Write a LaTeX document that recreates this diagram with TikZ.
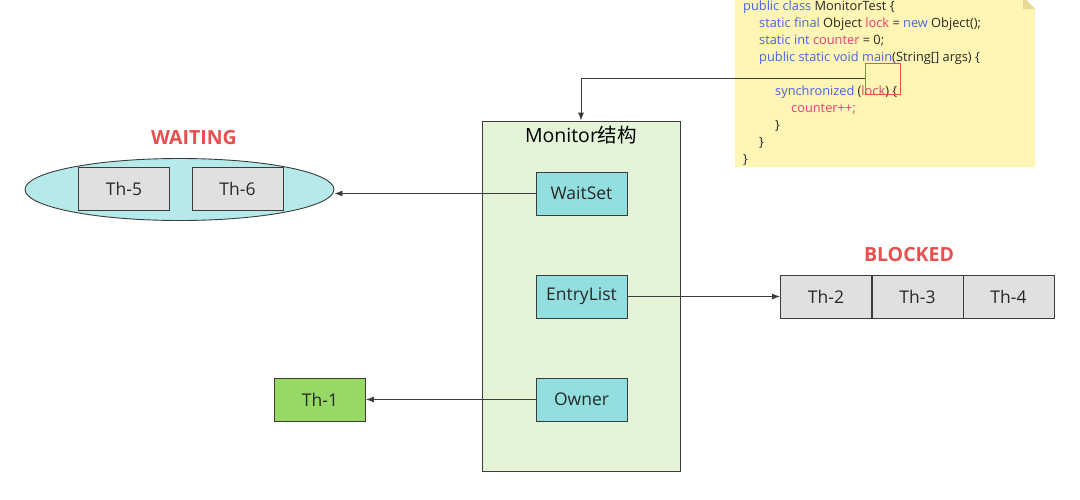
\documentclass[tikz,border=0pt]{standalone}
\usepackage{fontspec}
\setmainfont{Open Sans}
\newfontfamily\cjkfont{Noto Sans CJK SC}
\usetikzlibrary{arrows.meta,shapes.geometric}
\definecolor{linec}{RGB}{60,60,60}
\definecolor{monfill}{RGB}{227,244,217}
\definecolor{cyanfill}{RGB}{147,223,224}
\definecolor{ellfill}{RGB}{182,233,234}
\definecolor{grayfill}{RGB}{224,224,224}
\definecolor{greenfill}{RGB}{150,217,102}
\definecolor{statered}{RGB}{232,80,80}
\definecolor{notefill}{RGB}{255,245,180}
\definecolor{foldfill}{RGB}{232,216,150}
\definecolor{kw}{RGB}{70,100,225}
\definecolor{idc}{RGB}{228,60,120}
\definecolor{txt}{RGB}{40,40,40}
\tikzset{
  box/.style={draw=linec, line width=0.9pt, inner sep=0pt, minimum width=91pt, minimum height=43pt, text=txt, font=\fontsize{17.5}{19}\selectfont},
  field/.style={box, fill=cyanfill},
  thread/.style={box, fill=grayfill},
  state/.style={text=statered, font=\fontsize{19.5}{21}\selectfont\bfseries, inner sep=0pt},
  code/.style={anchor=base west, inner sep=0pt, text=txt, font=\fontsize{12.8}{15}\selectfont},
  conn/.style={draw=linec, line width=0.9pt, -{Latex[length=8pt,width=6pt]}}
}
\begin{document}
\begin{tikzpicture}[x=1pt,y=-1pt]
\useasboundingbox[fill=white] (0,0) rectangle (1080,499);
% note
\fill[notefill] (735,-3) -- (1023,-3) -- (1035,9) -- (1035,167) -- (735,167) -- cycle;
\fill[foldfill] (1023,-3) -- (1023,9) -- (1035,9) -- cycle;
\node[code] (c1) at (743,10) {\textcolor{kw}{public class} MonitorTest \{};
\node[code] (c2) at (759,27) {\textcolor{kw}{static final} Object \textcolor{idc}{lock} = \textcolor{kw}{new} Object();};
\node[code] (c3) at (759,44) {\textcolor{kw}{static int} \textcolor{idc}{counter} = 0;};
\node[code] (c4) at (759,61) {\textcolor{kw}{public static void main}(String[] args) \{};
\node[code] (c5) at (775,95) {\textcolor{kw}{synchronized} (\textcolor{idc}{lock}) \{};
\node[code] (c6) at (791,112) {\textcolor{idc}{counter++;}};
\node[code] (c7) at (775,129) {\}};
\node[code] (c8) at (759,146) {\}};
\node[code] (c9) at (743,163) {\}};
\node[draw=statered!85!orange, line width=0.8pt, minimum width=35pt, minimum height=31pt, inner sep=0pt] (lockbox) at (882.5,78.5) {};
% monitor
\node[draw=linec, line width=0.9pt, fill=monfill, minimum width=198pt, minimum height=350pt, inner sep=0pt] (monitor) at (581,296) {};
\node[text=black, font=\fontsize{19.5}{21}\selectfont, inner sep=0pt] (montitle) at (581,135) {Monitor{\cjkfont 结构}};
\node[field] (waitset) at (581.5,193.5) {WaitSet};
\node[field] (entry) at (581.5,296.5) {EntryList};
\node[field] (owner) at (581.5,399.5) {Owner};
% waiting
\node[draw=linec, line width=0.9pt, fill=ellfill, ellipse, minimum width=309pt, minimum height=62pt, inner sep=0pt] (ell) at (179.5,189.5) {};
\node[thread] (th5) at (124,188.5) {Th-5};
\node[thread] (th6) at (237.5,188.5) {Th-6};
\node[state] (waiting) at (194,138) {WAITING};
% blocked
\node[thread] (th2) at (826,296.5) {Th-2};
\node[thread] (th3) at (917.5,296.5) {Th-3};
\node[thread] (th4) at (1008.5,296.5) {Th-4};
\node[state] (blocked) at (909,255) {BLOCKED};
% owner
\node[box, fill=greenfill] (th1) at (320,399.5) {Th-1};
% connectors
\draw[conn] (lockbox.west) -| (monitor.north);
\draw[conn] (waitset.west) -- (waitset.west -| ell.east);
\draw[conn] (entry.east) -- (th2.west);
\draw[conn] (owner.west) -- (th1.east);
\end{tikzpicture}
\end{document}
